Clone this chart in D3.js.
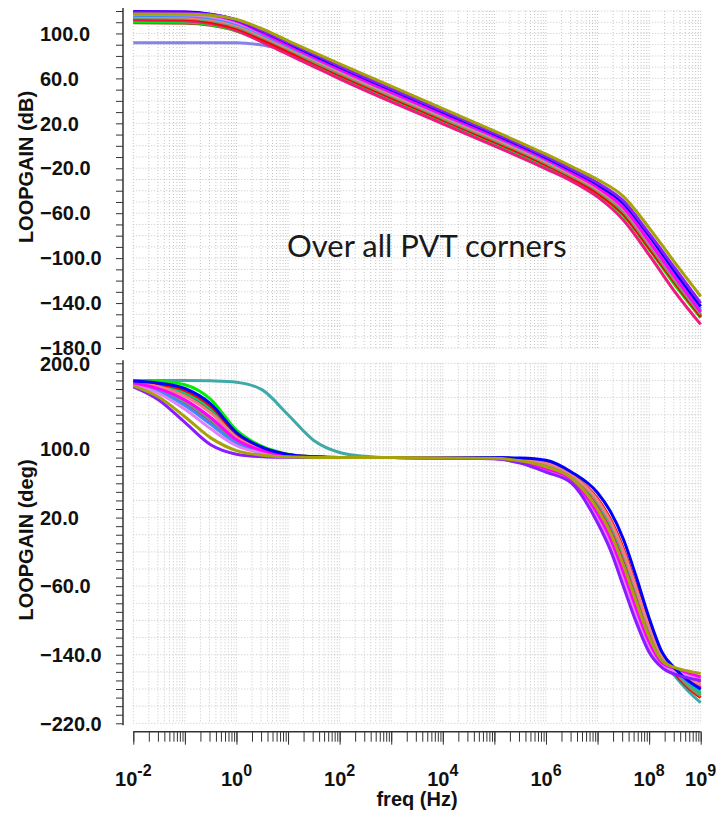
<!DOCTYPE html>
<meta charset="utf-8">

<script src="https://d3js.org/d3.v7.min.js"></script>

<div id="main">
</div>

<style>
body { margin: 0; background: #fff; }
.lbl {
  font-family: "Liberation Sans", Arial, sans-serif;
  font-weight: bold;
  font-size: 20px;
  fill: #111;
}
.grid line {
  stroke: #c6c6c6;
  stroke-dasharray: 1,2;
}
.trace {
  fill: none;
  stroke-width: 3;
  stroke-linejoin: round;
}
.axis line, .axis path { stroke: #333; }
</style>

<script>

// frequencies (Hz) the traces were read at
const magFreq = [1e-2, 1e-1, 0.316, 1, 3.16, 10, 31.6, 100, 1e4, 1e6, 3.16e6, 1e7, 3.16e7, 1e8, 3.16e8, 1e9];
const phaseFreq = [1e-2, 0.0316, 0.1, 0.316, 1, 3.16, 10, 31.6, 100, 316, 1e3,
                   1e5, 3.16e5, 1e6, 3.16e6, 1e7, 1.78e7, 3.16e7, 5.62e7, 1e8, 1.78e8, 3.16e8, 5.62e8, 1e9];

// loop gain magnitude (dB), one array per PVT corner
const gainOutlier    = [91.8, 91.8, 91.8, 91.7, 89.7, 84.4, 75.8, 66, 26, -14, -25.5, -38.5, -56, -86, -117, -147];
const gainWhite      = [112.5, 112.2, 110.2, 105, 95.5, 85, 74.5, 65, 25, -15, -26.5, -39.5, -57.5, -87.5, -119, -149];
const gainBrown      = [109.5, 109.2, 107.3, 102.2, 92.7, 82.3, 72.2, 62, 22, -18, -29.5, -42.5, -61, -91, -123, -153];
const gainGreen      = [110.5, 110.1, 108, 102.5, 93, 82.5, 71.5, 61, 21, -19, -30, -43, -62, -92, -124, -153];
const gainSpring     = [111.5, 111.2, 109.1, 103.9, 94.3, 83.8, 73.1, 62.5, 22.5, -17.5, -29, -42, -60, -90, -121, -151];
const gainPink       = [112, 111.4, 108.8, 102.8, 92.3, 81.3, 70.5, 59.5, 19.5, -20.5, -31.5, -45.5, -66, -97, -130, -159];
const gainRed        = [113, 112.6, 110, 104.5, 94.5, 84, 73.5, 63, 23, -17, -28.5, -42, -61, -91, -122, -152];
const gainGrayGreen  = [114, 113.6, 111.5, 106, 96.5, 86, 75, 64.5, 24.5, -15.5, -27, -40, -58.5, -88.5, -120, -150];
const gainSalmon     = [115, 114.7, 112.6, 107.4, 97.8, 87.3, 76.6, 66, 26, -14, -25.5, -38.5, -56, -86, -117, -147];
const gainCornflower = [116, 115.7, 113.7, 108.5, 99, 88.5, 78, 67.5, 27.5, -12.5, -24, -36.5, -53, -83, -114, -145];
const gainViolet     = [117, 116.7, 114.8, 109.7, 100.2, 89.8, 79.3, 69, 29, -11, -22.5, -35, -52, -81, -112, -143];
const gainMagenta    = [119.5, 119.1, 116.7, 111, 100.5, 89.5, 78.8, 68, 28, -12, -24, -37, -55, -85, -117, -148];
const gainBlue       = [119.4, 119.1, 117.2, 112, 102, 91.3, 80.5, 70, 30, -10.5, -22, -34.5, -51, -80, -112, -143];
const gainPurple     = [118.5, 118.3, 116.8, 112, 102.5, 92, 81.5, 71, 31, -9.5, -21, -33, -49, -78, -109, -140];
const gainOlive      = [117.3, 117.2, 116.3, 112.5, 104, 93.5, 83.2, 73, 33, -7.5, -18.5, -30, -45, -73, -104, -134];

// loop gain phase (deg)
const phaseOutlier    = [180, 180, 180, 179.5, 178, 169, 140, 110, 96, 91.5, 90, 89.3, 86.5, 80, 66.5, 31.5, 4.5, -32.5, -75.5, -117, -146, -165, -182, -196];
const phaseWhite      = [174.8, 163.6, 144.2, 120.9, 102.4, 94.6, 91.4, 90.3, 90, 90, 90, 89.1, 85.9, 78.6, 65.2, 28, 0, -38, -80.8, -121, -147.8, -157, -166, -174];
const phaseBrown      = [178.1, 173.5, 164, 144.8, 115, 100, 93.1, 90.8, 90, 90, 90, 89.5, 87.4, 82.1, 68.5, 36.8, 11.3, -24.3, -67.6, -111, -143.3, -156, -165, -172];
const phaseGreen      = [180, 179, 175, 158, 122, 103, 94, 91, 90, 90, 90, 89.4, 87.1, 81.4, 67.8, 35, 9, -27, -70.2, -113, -144.2, -161, -175, -186];
const phaseSpring     = [178.5, 174.6, 166.2, 147.4, 116.4, 100.6, 93.3, 90.8, 90, 90, 90, 89.3, 86.8, 80.7, 67.2, 33.3, 6.8, -29.8, -72.9, -115, -145.1, -160, -174, -184];
const phasePink       = [176.3, 168, 153, 131.5, 108, 97, 92.2, 90.5, 90, 90, 90, 89.3, 86.5, 80, 66.5, 31.5, 4.5, -32.5, -75.5, -117, -146, -158, -169, -178];
const phaseRed        = [178.9, 175.7, 168.4, 150, 117.8, 101.2, 93.4, 90.9, 90, 90, 90, 89.7, 88.3, 84.2, 70.4, 42, 18, -16, -59.6, -105, -140.6, -162, -178, -190];
const phaseGrayGreen  = [176.6, 169.1, 155.2, 134.2, 109.4, 97.6, 92.3, 90.6, 90, 90, 90, 89.6, 87.7, 82.8, 69.1, 38.5, 13.5, -21.5, -65.1, -109, -142.4, -160, -176, -188];
const phaseSalmon     = [177.8, 172.4, 161.8, 142.1, 113.6, 99.4, 92.9, 90.7, 90, 90, 90, 89.6, 88, 83.5, 69.8, 40.3, 15.8, -18.8, -62.3, -107, -141.5, -156, -167, -175];
const phaseCornflower = [175.9, 166.9, 150.8, 128.9, 106.6, 96.4, 92, 90.5, 90, 90, 90, 89, 85.6, 77.9, 64.6, 26.3, -2.3, -40.8, -83.5, -123, -148.7, -159, -171, -181];
const phaseViolet     = [175.1, 164.7, 146.4, 123.6, 103.8, 95.2, 91.6, 90.4, 90, 90, 90, 88.7, 84.4, 75.1, 62, 19.3, -11.3, -51.8, -94.1, -131, -152.3, -159, -164, -168];
const phaseMagenta    = [177, 170.2, 157.4, 136.8, 110.8, 98.2, 92.5, 90.6, 90, 90, 90, 89, 85.3, 77.2, 63.9, 24.5, -4.5, -43.5, -86.1, -125, -149.6, -156, -161, -166];
const phaseBlue       = [179.3, 176.8, 170.6, 152.7, 119.2, 101.8, 93.6, 90.9, 90, 90, 90, 90, 89.5, 87, 73, 49, 27, -5, -49, -97, -137, -156, -170, -180];
const phasePurple     = [172.5, 157, 131, 105, 94, 91, 90.3, 90, 90, 90, 90, 88.5, 83.5, 73, 60, 14, -18, -60, -102, -137, -155, -163, -167, -170];
const phaseOlive      = [173.6, 160.3, 137.6, 113, 98.2, 92.8, 90.9, 90.2, 90, 90, 90, 89.2, 86.2, 79.3, 65.9, 29.8, 2.3, -35.3, -78.2, -119, -146.9, -155, -159, -162];

// corners in drawing order (last one on top)
const corners = [
  {gain: gainOutlier, phase: phaseOutlier},
  {gain: gainWhite, phase: phaseWhite},
  {gain: gainBrown, phase: phaseBrown},
  {gain: gainGreen, phase: phaseGreen},
  {gain: gainSpring, phase: phaseSpring},
  {gain: gainPink, phase: phasePink},
  {gain: gainRed, phase: phaseRed},
  {gain: gainGrayGreen, phase: phaseGrayGreen},
  {gain: gainSalmon, phase: phaseSalmon},
  {gain: gainCornflower, phase: phaseCornflower},
  {gain: gainViolet, phase: phaseViolet},
  {gain: gainMagenta, phase: phaseMagenta},
  {gain: gainBlue, phase: phaseBlue},
  {gain: gainPurple, phase: phasePurple},
  {gain: gainOlive, phase: phaseOlive}
];
const gainColors  = ["#8484e6", "#ffffff", "#9a5a2a", "#00ee00", "#00d27a", "#ee1a80", "#ff0000", "#6aa06a",
                     "#f08080", "#3c8cff", "#e080ff", "#ff00ff", "#0000ff", "#8a1cff", "#a6a20a"];
const phaseColors = ["#3fa9a9", "#ffffff", "#9a5a2a", "#00ee00", "#00d27a", "#ee1a80", "#ff0000", "#6aa06a",
                     "#f08080", "#3c8cff", "#e080ff", "#ff00ff", "#0000ff", "#8a1cff", "#a6a20a"];

const magLabels = [100, 60, 20, -20, -60, -100, -140, -180];
const phaseLabels = [200, 100, 20, -60, -140, -220];
const decadeLabels = [-2, 0, 2, 4, 6, 8, 9];

const width = 720, height = 817;

let svg = d3.select("#main").append("svg")
    .attr("width", width)
    .attr("height", height);

let x = d3.scaleLog().domain([1e-2, 1e9]).range([133.3, 700.7]);
let yMag = d3.scaleLinear().domain([-180, 120]).range([348, 11]);
let yPh = d3.scaleLinear().domain([-220, 200]).range([723.3, 363.3]);

// 1..9 per decade for grid / minor ticks
let logTicks = [];
for (let e = -2; e < 9; e++) {
  for (let k = 1; k < 10; k++) logTicks.push(k * Math.pow(10, e));
}
logTicks.push(1e9);
let decades = d3.range(-2, 10).map(function(e) { return Math.pow(10, e); });

function panel(y, gridStep, colors, key, freqs) {
  let g = svg.append("g");
  let grid = g.append("g").attr("class", "grid");
  let [lo, hi] = y.domain();
  grid.selectAll("line.h")
    .data(d3.range(lo, hi + 1, gridStep))
    .enter().append("line")
      .attr("x1", x.range()[0]).attr("x2", x.range()[1])
      .attr("y1", function(d) { return y(d); })
      .attr("y2", function(d) { return y(d); });
  grid.selectAll("line.v")
    .data(logTicks)
    .enter().append("line")
      .attr("x1", function(d) { return x(d); })
      .attr("x2", function(d) { return x(d); })
      .attr("y1", y(hi)).attr("y2", y(lo));

  let line = d3.line()
      .x(function(d) { return x(d[0]); })
      .y(function(d) { return y(d[1]); })
      .curve(d3.curveMonotoneX);

  g.selectAll("path.trace")
    .data(corners)
    .enter().append("path")
      .attr("class", "trace")
      .attr("stroke", function(d, i) { return colors[i]; })
      .attr("stroke-width", function(d, i) { return i === corners.length - 1 ? 4 : 3; })
      .attr("d", function(d) { return line(d3.zip(freqs, d[key])); });

  // y axis
  let ax = g.append("g").attr("class", "axis")
      .attr("transform", "translate(123,0)")
      .call(d3.axisLeft(y).tickValues(d3.range(lo, hi + 1, 10)).tickSize(7).tickFormat(""));
  ax.select(".domain").remove();
  ax.append("line")
      .attr("y1", y(hi) - 3).attr("y2", y(lo) + 2)
      .attr("stroke-width", 1.5);
  return g;
}

let gainPanel = panel(yMag, 10, gainColors, "gain", magFreq);
let phasePanel = panel(yPh, 20, phaseColors, "phase", phaseFreq);

gainPanel.selectAll("text.lbl")
  .data(magLabels)
  .enter().append("text")
    .attr("class", "lbl")
    .attr("x", 40)
    .attr("y", function(d) { return yMag(d); })
    .attr("dy", "0.36em")
    .text(d3.format(".1f"));

phasePanel.selectAll("text.lbl")
  .data(phaseLabels)
  .enter().append("text")
    .attr("class", "lbl")
    .attr("x", 40)
    .attr("y", function(d) { return yPh(d); })
    .attr("dy", "0.36em")
    .text(d3.format(".1f"));

svg.append("text")
    .attr("class", "lbl")
    .attr("text-anchor", "middle")
    .attr("transform", "translate(33,167) rotate(-90)")
    .text("LOOPGAIN (dB)");

svg.append("text")
    .attr("class", "lbl")
    .attr("text-anchor", "middle")
    .attr("transform", "translate(33,540) rotate(-90)")
    .text("LOOPGAIN (deg)");

// x axis (bottom only)
let xAxisY = 731.7;
let xa = svg.append("g").attr("class", "axis")
    .attr("transform", "translate(0," + xAxisY + ")");
xa.call(d3.axisBottom(x).tickValues(logTicks).tickSize(10).tickFormat(""));
xa.select(".domain").remove();
xa.append("g")
    .call(d3.axisBottom(x).tickValues(decades).tickSize(13).tickFormat(""))
    .select(".domain").remove();
xa.append("line")
    .attr("x1", x.range()[0]).attr("x2", x.range()[1])
    .attr("stroke-width", 1.5);

let xl = svg.selectAll("text.xl")
  .data(decadeLabels)
  .enter().append("text")
    .attr("class", "lbl")
    .attr("text-anchor", "middle")
    .attr("x", function(d) { return x(Math.pow(10, d)); })
    .attr("y", 786);
xl.append("tspan").text("10");
xl.append("tspan")
    .attr("dy", -10)
    .attr("font-size", 16)
    .text(function(d) { return d; });

svg.append("text")
    .attr("class", "lbl")
    .attr("text-anchor", "middle")
    .attr("x", (x.range()[0] + x.range()[1]) / 2)
    .attr("y", 806)
    .attr("font-size", 19)
    .text("freq (Hz)");

svg.append("text")
    .attr("x", 287)
    .attr("y", 257)
    .attr("font-family", "Lato, 'Open Sans', sans-serif")
    .attr("font-size", 31)
    .attr("fill", "#1a1a1a")
    .text("Over all PVT corners");

</script>
